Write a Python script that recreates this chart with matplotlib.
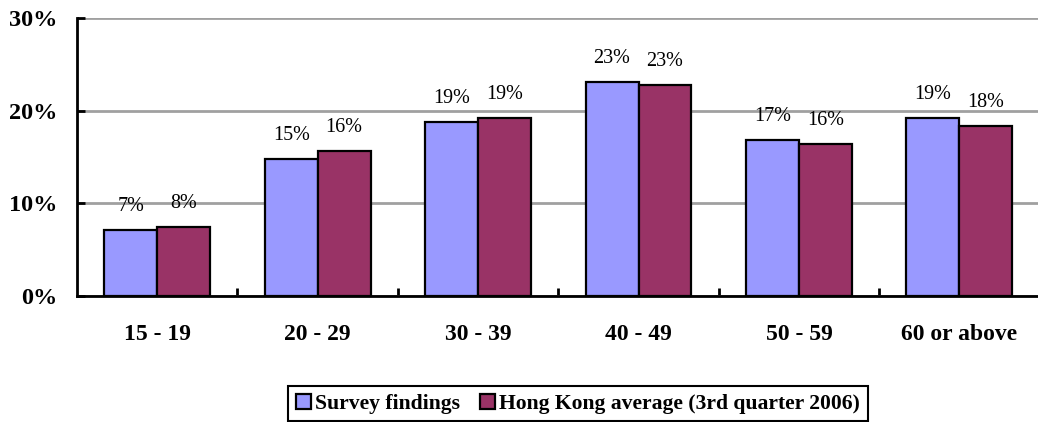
import matplotlib.pyplot as plt
import numpy as np

# age groups and shares (%)
categories = ['15 - 19', '20 - 29', '30 - 39', '40 - 49', '50 - 59', '60 or above']
survey = [7.1, 14.8, 18.8, 23.1, 16.8, 19.2]
hk_avg = [7.4, 15.6, 19.2, 22.8, 16.4, 18.3]
survey_labels = ['7%', '15%', '19%', '23%', '17%', '19%']
hk_labels = ['8%', '16%', '19%', '23%', '16%', '18%']
y_ticks = [0, 10, 20, 30]
y_ticklabels = ['0%', '10%', '20%', '30%']

plt.rcParams['font.family'] = ['Liberation Serif', 'DejaVu Serif']

fig = plt.figure(figsize=(10.38, 4.22), dpi=100)
ax = fig.add_axes([77 / 1038, 1 - 296 / 422, 1 - 77 / 1038, (296 - 18) / 422])

x = np.arange(len(categories))
w = 0.33
bars1 = ax.bar(x - w / 2, survey, w, color='#9999FF', edgecolor='black',
               linewidth=1.6, label='Survey findings', zorder=3)
bars2 = ax.bar(x + w / 2, hk_avg, w, color='#993366', edgecolor='black',
               linewidth=1.6, label='Hong Kong average (3rd quarter 2006)', zorder=3)

for b, t in zip(bars1, survey_labels):
    ax.annotate(t, (b.get_x() + b.get_width() / 2, b.get_height()),
                xytext=(0, 17), textcoords='offset points',
                ha='center', va='center', fontsize=14.5)
for b, t in zip(bars2, hk_labels):
    ax.annotate(t, (b.get_x() + b.get_width() / 2, b.get_height()),
                xytext=(0, 17), textcoords='offset points',
                ha='center', va='center', fontsize=14.5)

ax.set_xlim(-0.5, 5.49)
ax.set_ylim(0, 30)
ax.set_yticks(y_ticks)
ax.set_yticklabels(y_ticklabels, fontsize=17.5, fontweight='bold')
ax.set_xticks(x)
ax.set_xticklabels(categories, fontsize=17, fontweight='bold')
ax.set_xticks(np.arange(0.5, 5.0, 1.0), minor=True)
ax.tick_params(axis='x', which='major', length=0, pad=20)
ax.tick_params(axis='x', which='minor', direction='in', length=6, width=2)
ax.tick_params(axis='y', direction='in', length=6, width=2, pad=14)

ax.yaxis.grid(True, color='#A0A0A0', linewidth=2)
ax.set_axisbelow(True)
for s in ['top', 'right']:
    ax.spines[s].set_visible(False)
for s in ['left', 'bottom']:
    ax.spines[s].set_linewidth(2)
    ax.spines[s].set_color('black')
ax.spines['left'].set_zorder(4)
ax.spines['bottom'].set_zorder(4)

leg = fig.legend(handles=[bars1, bars2], loc='upper center', ncol=2,
                 bbox_to_anchor=(578 / 1038, 1 - 386 / 422),
                 bbox_transform=fig.transFigure,
                 prop={'family': 'Liberation Serif', 'weight': 'bold', 'size': 15.6},
                 fancybox=False, edgecolor='black', framealpha=1,
                 handlelength=0.7, handleheight=0.7, handletextpad=0.2,
                 columnspacing=0.9, borderpad=0.35, borderaxespad=0)
leg.get_frame().set_linewidth(1.5)

fig.savefig('out.png', dpi=100)
